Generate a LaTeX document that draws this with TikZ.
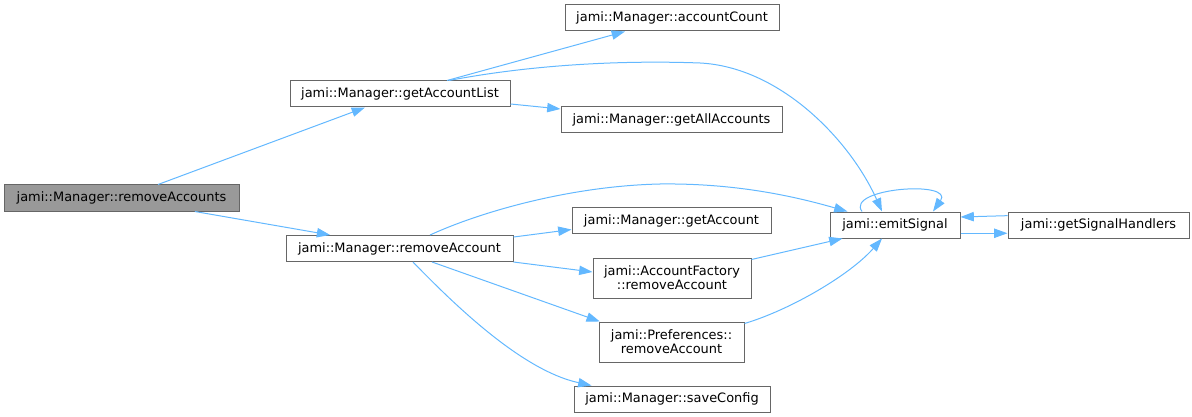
\documentclass[tikz,border=0pt]{standalone}
\usepackage{fontspec}
\setmainfont{DejaVu Sans}
\usetikzlibrary{arrows.meta,positioning}
\definecolor{edgeblue}{HTML}{63B8FF}
\definecolor{boxline}{HTML}{666666}
\definecolor{rootfill}{HTML}{999999}

\begin{document}
\begin{tikzpicture}[x=0.75pt, y=-0.75pt,
    fn/.style={draw=boxline, line width=0.75pt, fill=white, inner sep=0pt,
      align=center, minimum height=19.5pt, font=\fontsize{9.7}{10.5}\selectfont},
    root/.style={fn, fill=rootfill},
    call/.style={draw=edgeblue, line width=0.75pt, -{Triangle[length=10pt, width=7pt]}}]
      \useasboundingbox (0,0) rectangle (1192,417);
      % Nodes
      % caller and first calls
      \node[root, minimum width=176.25pt] (rmall) at (121.5,198) {jami::Manager::removeAccounts};
      \node[fn, minimum width=165pt] (glist) at (400,94) {jami::Manager::getAccountList};
      \node[fn, minimum width=170.25pt] (rmone) at (399.5,248.5) {jami::Manager::removeAccount};
      % second column
      \node[fn, minimum width=160.5pt] (acount) at (672,18) {jami::Manager::accountCount};
      \node[fn, minimum width=165.75pt] (gall) at (671.5,119.5) {jami::Manager::getAllAccounts};
      \node[fn, minimum width=149.25pt] (gacc) at (671.5,220.5) {jami::Manager::getAccount};
      \node[fn, minimum width=118.5pt, minimum height=30pt] (afact) at (672,278) {jami::AccountFactory\\::removeAccount};
      \node[fn, minimum width=108.75pt, minimum height=30pt] (pref) at (671.5,342) {jami::Preferences::\\removeAccount};
      \node[fn, minimum width=147pt] (save) at (672,399) {jami::Manager::saveConfig};
      % signals
      \node[fn, minimum width=97.5pt] (emit) at (895,225) {jami::emitSignal};
      \node[fn, minimum width=135.75pt, right=35.25pt of emit] (hand) {jami::getSignalHandlers};
      % edges
      \draw[call] ([xshift=27.4pt]rmall.north) -- ([xshift=-26.25pt]glist.south);
      \draw[call] ([xshift=55pt]rmall.south) -- ([xshift=-52pt]rmone.north);
      \draw[call] ([xshift=35.25pt]glist.north) -- ([xshift=-35.25pt]acount.south);
      \draw[call] ([xshift=36.75pt]glist.north) .. controls (530,65) and (620,60) .. (700,63)
        .. controls (780,67) and (850,140) .. ([xshift=-9.75pt]emit.north);
      \draw[call] ([yshift=-7.5pt]glist.east) -- ([yshift=7.9pt]gall.west);
      \draw[call] ([xshift=22.9pt]rmone.north) .. controls (480,212) and (570,186) .. (660,184)
        .. controls (740,183) and (800,198) .. ([xshift=13.5pt]emit.north west);
      \draw[call] ([yshift=8.6pt]rmone.east) -- ([yshift=-6.75pt]gacc.west);
      \draw[call] (rmone.south east) -- ([yshift=4.5pt]afact.west);
      \draw[call] ([xshift=24.4pt]rmone.south) -- ([xshift=1pt]pref.north west);
      \draw[call] ([xshift=10.1pt]rmone.south) .. controls (450,300) and (520,370) .. ([xshift=13.5pt]save.north west);
      \draw[call] ([yshift=-1.5pt]afact.north east) -- ([xshift=9.75pt]emit.south west);
      \draw[call] ([yshift=-1.5pt]pref.north east) .. controls (790,310) and (850,275) .. ([xshift=-9.75pt]emit.south);
      \draw[call] ([xshift=-24.75pt]emit.north) .. controls (845,188) and (955,180) .. ([xshift=28.5pt]emit.north);
      \draw[call] ([yshift=7pt]hand.west) -- ([yshift=6pt]emit.east);
      \draw[call] ([yshift=-6.2pt]emit.east) -- ([yshift=-6.2pt]hand.west);
\end{tikzpicture}
\end{document}
